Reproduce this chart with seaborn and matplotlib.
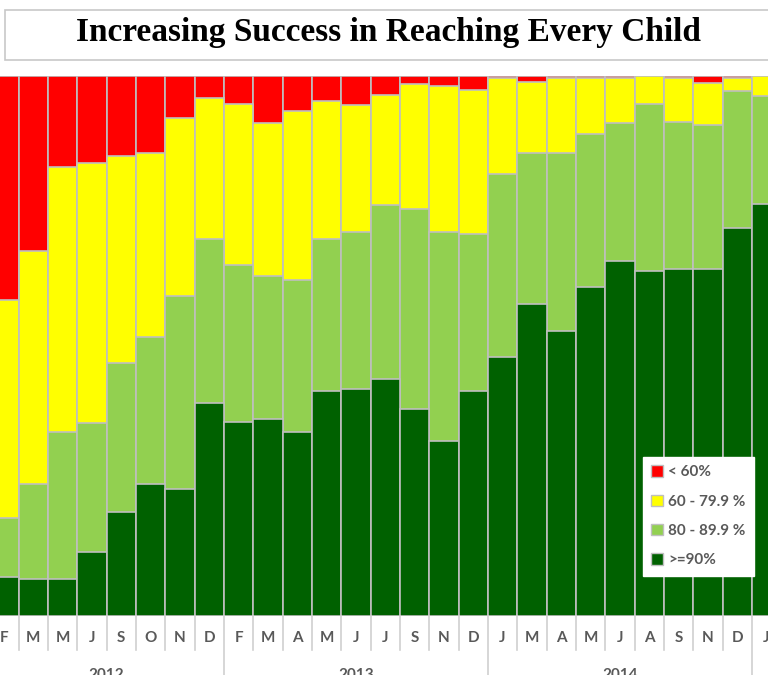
import numpy as np
import pandas as pd
import matplotlib
matplotlib.use("Agg")
import matplotlib.pyplot as plt
from matplotlib.patches import Rectangle, Patch
import seaborn as sns

# month of each reporting period (Feb 2012 .. Jan 2015)
months = ["F", "M", "M", "J", "S", "O", "N", "D",
          "F", "M", "A", "M", "J", "J", "S", "N", "D",
          "J", "M", "A", "M", "J", "A", "S", "N", "D",
          "J"]
years = ["2012", "2013", "2014"]
year_bars = [8, 9, 9]

# share of children (%) in each coverage band
pct_90 = [7.2, 6.8, 6.8, 11.7, 19.1, 24.4, 23.5, 39.3,
          35.9, 36.4, 34.0, 41.7, 42.0, 43.8, 38.2, 32.3, 41.6,
          47.9, 57.7, 52.7, 60.9, 65.8, 63.9, 64.2, 64.2, 71.8,
          76.3]
pct_80 = [10.9, 17.5, 27.2, 23.9, 27.7, 27.2, 35.7, 30.5,
          29.0, 26.5, 28.2, 28.1, 29.1, 32.2, 37.2, 38.8, 29.1,
          33.9, 28.1, 33.1, 28.4, 25.5, 30.9, 27.2, 26.7, 25.4,
          20.0]
pct_60 = [40.4, 43.3, 49.1, 48.2, 38.4, 34.2, 33.1, 26.2,
          30.0, 28.3, 31.3, 25.6, 23.6, 20.4, 23.1, 27.0, 26.7,
          17.9, 13.0, 13.9, 10.4, 8.4, 5.2, 8.3, 7.8, 2.5,
          3.7]
pct_lt60 = [41.5, 32.4, 16.9, 16.2, 14.8, 14.2, 7.7, 4.0,
            5.1, 8.8, 6.5, 4.6, 5.3, 3.6, 1.5, 1.9, 2.6,
            0.3, 1.2, 0.3, 0.3, 0.3, 0.0, 0.3, 1.3, 0.3,
            0.0]

bands = ["< 60%", "60 - 79.9 %", "80 - 89.9 %", ">=90%"]
colors = ["#FF0000", "#FFFF00", "#92D050", "#006100"]

df = pd.DataFrame({"pos": np.arange(len(months)),
                   ">=90%": pct_90, "80 - 89.9 %": pct_80,
                   "60 - 79.9 %": pct_60, "< 60%": pct_lt60})
# cumulative heights, drawn tallest first so the layers stack
df["c90"] = df[">=90%"]
df["c80"] = df["c90"] + df["80 - 89.9 %"]
df["c60"] = df["c80"] + df["60 - 79.9 %"]
df["c0"] = df["c60"] + df["< 60%"]

W, H = 768, 675
fig = plt.figure(figsize=(W / 100, H / 100), dpi=100)
ax = fig.add_axes([0, (H - 615.5) / H, 1, 539.5 / H])

edge = "#BFBFBF"
for col, c in zip(["c0", "c60", "c80", "c90"], colors):
    sns.barplot(data=df, x="pos", y=col, color=c, width=1.0, saturation=1,
                edgecolor=edge, linewidth=1.2, errorbar=None, ax=ax)

ax.set_xlim(-0.136, 26.05)
ax.set_ylim(0, 100)
ax.set_yticks([])
ax.set_ylabel("")
ax.set_xlabel("")
for s in ax.spines.values():
    s.set_visible(False)

lab_font = dict(family="Lato", weight="bold", color="#595959")
ax.set_xticks(df["pos"], months)
ax.tick_params(axis="x", length=0, pad=11)
for t in ax.get_xticklabels():
    t.set_fontfamily("Lato")
    t.set_fontweight("bold")
    t.set_color("#595959")
    t.set_fontsize(11)

# separators under the axis
xt = ax.get_xaxis_transform()
bounds = np.cumsum(year_bars) - 0.5
for b in np.arange(len(months)) - 0.5:
    long = b in bounds
    ax.plot([b, b], [0, -0.12 if long else -0.064], color="#D0D0D0",
            lw=1.2, transform=xt, clip_on=False)

# year labels sit at the bottom edge, partly cut off as in the original
start = 0
for yr, n in zip(years, year_bars):
    ax.text(start + (n - 1) / 2, -0.0975, yr, transform=xt, ha="center",
            va="top", fontsize=11, clip_on=False, **lab_font)
    start += n

# title box
fig.patches.append(Rectangle((5 / W, (H - 60) / H), 1.0, 50 / H,
                             transform=fig.transFigure, facecolor="white",
                             edgecolor="#C8C8C8", lw=1.2))
fig.text(388 / W, (H - 33) / H, "Increasing Success in Reaching Every Child",
         ha="center", va="center", fontsize=24, fontweight="bold",
         family="Liberation Serif")

handles = [Patch(facecolor=c, edgecolor=edge, label=b) for b, c in zip(bands, colors)]
leg = fig.legend(handles=handles, loc="upper left",
                 bbox_to_anchor=(643 / W, 1 - 457 / H), bbox_transform=fig.transFigure,
                 frameon=True, fancybox=False, framealpha=1, edgecolor="white",
                 borderaxespad=0, borderpad=0.55, handlelength=0.75, handleheight=0.75,
                 handletextpad=0.35, labelspacing=1.0,
                 prop=dict(family="Lato", weight="bold", size=11))
for t in leg.get_texts():
    t.set_color("#595959")

fig.savefig("out.png", dpi=100, facecolor="white")
